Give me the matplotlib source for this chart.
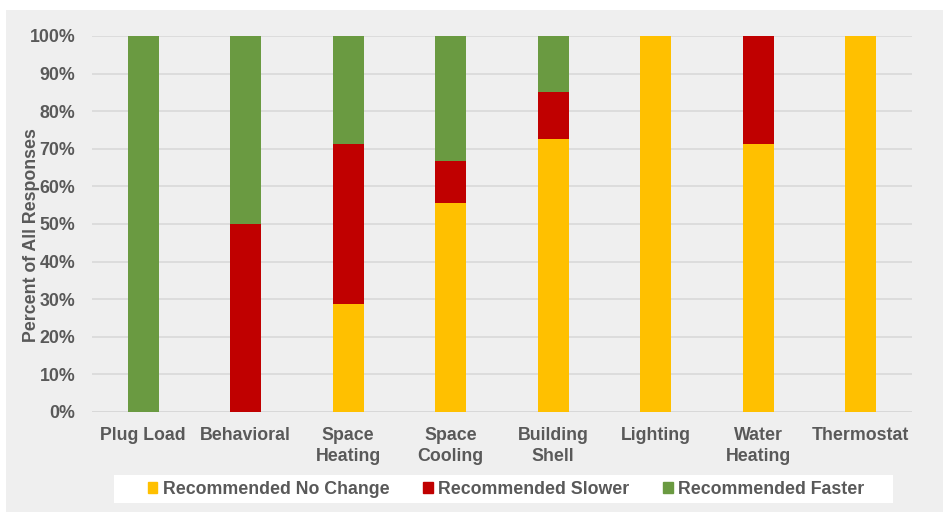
import matplotlib.pyplot as plt
import numpy as np
from matplotlib.patches import Rectangle, Patch

plt.rcParams['font.family'] = ['Liberation Sans', 'DejaVu Sans']

categories = ['Plug Load', 'Behavioral', 'Space\nHeating', 'Space\nCooling',
              'Building\nShell', 'Lighting', 'Water\nHeating', 'Thermostat']
no_change = [0, 0, 28.6, 55.6, 72.5, 100, 71.4, 100]
slower = [0, 50, 42.8, 11.1, 12.5, 0, 28.6, 0]
faster = [100, 50, 28.6, 33.3, 15.0, 0, 0, 0]
y_ticks = [0, 10, 20, 30, 40, 50, 60, 70, 80, 90, 100]

c_yellow = '#FFC000'
c_red = '#C00000'
c_green = '#6A9A41'
txt = '#595959'
bg = '#efefef'

W, H = 943, 512
fig = plt.figure(figsize=(W / 100, H / 100), dpi=100)
fig.patch.set_facecolor('white')
fig.add_artist(Rectangle((6 / W, 0), 1, (H - 10) / H, transform=fig.transFigure,
                         facecolor=bg, edgecolor='none', zorder=-10))
# white legend strip
fig.add_artist(Rectangle((114 / W, 1 - 503 / H), (893 - 114) / W, 28 / H,
                         transform=fig.transFigure, facecolor='white',
                         edgecolor='none', zorder=-5))

ax = fig.add_axes([92 / W, 1 - 412 / H, (912 - 92) / W, (412 - 36) / H])
ax.set_facecolor(bg)

x = np.arange(len(categories))
nc = np.array(no_change)
sl = np.array(slower)
fa = np.array(faster)
w = 0.3
ax.bar(x, nc, w, color=c_yellow, zorder=3)
ax.bar(x, sl, w, bottom=nc, color=c_red, zorder=3)
ax.bar(x, fa, w, bottom=nc + sl, color=c_green, zorder=3)

ax.set_xlim(-0.5, len(categories) - 0.5)
ax.set_ylim(0, 100)
ax.set_yticks(y_ticks)
ax.set_yticklabels([f'{v}%' for v in y_ticks])
ax.set_xticks(x)
ax.set_xticklabels(categories, linespacing=1.28)
ax.grid(axis='y', color='#d9d9d9', lw=1.2, zorder=0)
ax.axhline(0, color='#d0d0d0', lw=1.2, zorder=1)
for s in ax.spines.values():
    s.set_visible(False)
ax.tick_params(axis='both', length=0, labelsize=12.75, labelcolor=txt)
ax.tick_params(axis='y', pad=12)
ax.tick_params(axis='x', pad=11)
for lab in ax.get_xticklabels() + ax.get_yticklabels():
    lab.set_fontweight('bold')
ax.set_ylabel('Percent of All Responses', fontsize=12.75, fontweight='bold', color=txt)
ax.yaxis.set_label_coords(-52 / (912 - 92), 1 - (235 - 36) / (412 - 36))

handles = [Patch(color=c_yellow), Patch(color=c_red), Patch(color=c_green)]
labels = ['Recommended No Change', 'Recommended Slower', 'Recommended Faster']
leg = fig.legend(handles, labels, ncol=3, loc='center',
                 bbox_to_anchor=(506 / W, 1 - 489 / H),
                 frameon=False, handlelength=0.55, handleheight=0.55,
                 handletextpad=0.3, columnspacing=1.9, borderpad=0.3,
                 prop={'size': 12.75, 'weight': 'bold'})
for t in leg.get_texts():
    t.set_color(txt)

fig.savefig('out.png', dpi=100, facecolor=fig.get_facecolor())
